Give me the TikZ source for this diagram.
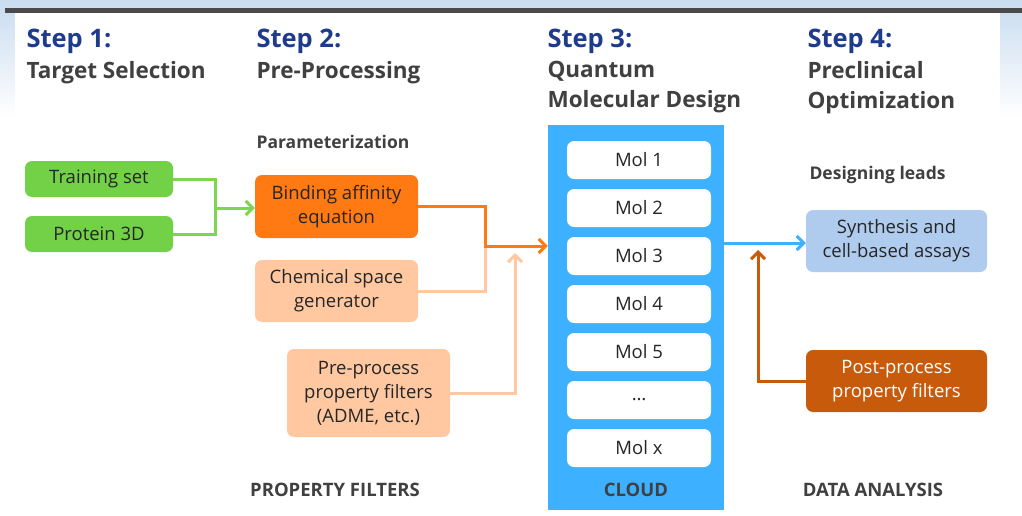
\documentclass[tikz,border=0pt]{standalone}
\usepackage{fontspec}
\setmainfont{Open Sans}
\usetikzlibrary{arrows.meta,positioning,calc}
\definecolor{headblue}{HTML}{1F3B8C}
\definecolor{headgrey}{HTML}{404040}
\definecolor{txt}{HTML}{262626}
\definecolor{barc}{HTML}{4A4A4A}
\definecolor{skyc}{HTML}{C9DCF0}
\definecolor{leaf}{HTML}{73D147}
\definecolor{leafline}{HTML}{7ED650}
\definecolor{orng}{HTML}{FF7A12}
\definecolor{peach}{HTML}{FFC8A0}
\definecolor{rust}{HTML}{C85A0C}
\definecolor{cloudc}{HTML}{3DB0FF}
\definecolor{paleblue}{HTML}{AFCCEF}

\begin{document}
\begin{tikzpicture}[x=1pt,y=-1pt,
  >={Straight Barb[length=7pt,width=14pt]},
  box/.style={rounded corners=7pt,align=center,text=txt,inner sep=1pt,
    font=\fontsize{18.5}{24}\selectfont},
  mol/.style={box,fill=white,minimum width=144pt,minimum height=38pt},
  head/.style={anchor=west,text=headblue,font=\fontsize{25.5}{28}\bfseries\selectfont},
  sub/.style={anchor=west,text=headgrey,align=left,font=\fontsize{22.5}{30}\bfseries\selectfont},
  tag/.style={text=headgrey,font=\fontsize{18.5}{20}\bfseries\selectfont},
  link/.style={line width=3pt}]
  \useasboundingbox (0,0) rectangle (1022,516);

  % header band
  \shade[top color=skyc,bottom color=white] (0,0) rectangle (1022,118);
  \fill[white] (15,13) rectangle (1000,116);
  \fill[barc] (5,8) rectangle (1022,13);

  \node[head] (s1) at (23,41) {Step 1:};
  \node[head] (s2) at (253,41) {Step 2:};
  \node[head] (s3) at (544,41) {Step 3:};
  \node[head] (s4) at (804,41) {Step 4:};
  \node[sub,anchor=north west] (t1) at (23,58) {Target Selection};
  \node[sub,anchor=north west] (t2) at (253,58) {Pre-Processing};
  \node[sub,anchor=north west] (t3) at (544,58) {Quantum\\Molecular Design};
  \node[sub,anchor=north west] (t4) at (804,58) {Preclinical\\Optimization};

  % step 1 and 2
  \node[box,fill=leaf,minimum width=148pt,minimum height=36pt] (ts) at (99,179) {Training set};
  \node[box,fill=leaf,minimum width=148pt,minimum height=36pt] (p3d) at (99,234) {Protein 3D};
  \node[tag,anchor=west,font=\fontsize{17.5}{20}\bfseries\selectfont] (par) at (253,142) {Parameterization};
  \node[box,fill=orng,minimum width=163pt,minimum height=63pt] (bind) at (336.5,206.5) {Binding affinity\\equation};
  \node[box,fill=peach,minimum width=163pt,minimum height=62pt] (chem) at (336.5,291) {Chemical space\\generator};
  \node[box,fill=peach,minimum width=163pt,minimum height=88pt] (pre) at (368.5,393) {Pre-process\\property filters\\(ADME, etc.)};
  \node[tag] (pf) at (335,490) {PROPERTY FILTERS};

  % step 3
  \node[fill=cloudc,minimum width=176pt,minimum height=385pt,inner sep=0pt] (cloud) at (636,317.5) {};
  \foreach \i/\t in {1/Mol 1,2/Mol 2,3/Mol 3,4/Mol 4,5/Mol 5,6/\dots,7/Mol x}
    \node[mol] (m\i) at (639,112+48*\i) {\t};
  \node[tag] (cl) at (636,490) {CLOUD};

  % step 4
  \node[tag,anchor=west,font=\fontsize{17.5}{20}\bfseries\selectfont] (dl) at (806,175) {Designing leads};
  \node[box,fill=paleblue,minimum width=181pt,minimum height=62pt] (syn) at (896.5,241) {Synthesis and\\cell-based assays};
  \node[box,fill=rust,text=white,minimum width=181pt,minimum height=62pt] (post) at (896.5,381) {Post-process\\property filters};
  \node[tag] (da) at (873,490) {DATA ANALYSIS};

  % connectors
  \coordinate (g) at (215,208);
  \coordinate (j1) at (485,246);
  \coordinate (j2) at (515,253);
  \coordinate (j3) at (758,243);
  \coordinate (j4) at (758,250);
  \draw[link,leafline] (ts.east) -| (g);
  \draw[link,leafline] (p3d.east) -| (g);
  \draw[link,leafline,->] (g) -- (bind.west |- g);
  \draw[link,peach] (chem.east) -| (j1);
  \draw[link,peach,->] (pre.east) -| (j2);
  \draw[link,orng,->] (bind.east) -| (j1) -- (cloud.west |- j1);
  \draw[link,cloudc,->] (cloud.east |- j3) -- (syn.west |- j3);
  \draw[link,rust,->] (post.west) -| (j4);
\end{tikzpicture}
\end{document}
